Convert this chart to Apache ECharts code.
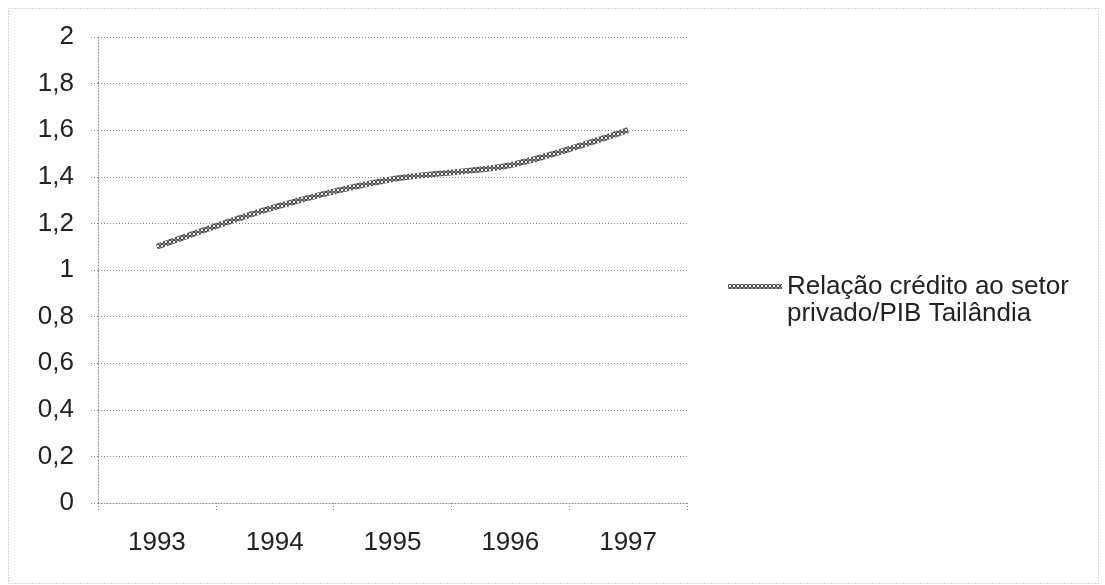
<!DOCTYPE html>
<html>
<head>
<meta charset="utf-8">
<script src="https://cdn.jsdelivr.net/npm/echarts@6/dist/echarts.min.js"></script>
<style>
  html, body { margin: 0; padding: 0; background: #fff; }
  #chart { width: 1105px; height: 585px; }
</style>
</head>
<body>
<div id="chart"></div>
<script>
// Credit to the private sector as a share of GDP, Thailand
const years = ['1993', '1994', '1995', '1996', '1997'];
const creditRatio = [1.10, 1.27, 1.39, 1.45, 1.60];
const seriesName = 'Relação crédito ao setor privado/PIB Tailândia';
const yTicks = { min: 0, max: 2, step: 0.2 };

// Small ring-shaped stipple used to stroke the line and its legend key
function makeStipple() {
  const c = document.createElement('canvas');
  c.width = 4; c.height = 4;
  const g = c.getContext('2d');
  g.fillStyle = '#8c8c8c';
  g.fillRect(0, 0, 4, 4);
  g.fillStyle = '#4a4a4a';
  g.fillRect(0, 1, 1, 2);
  g.fillRect(3, 1, 1, 2);
  g.fillRect(1, 0, 2, 1);
  g.fillRect(1, 3, 2, 1);
  g.fillStyle = '#f4f4f4';
  g.fillRect(1, 1, 2, 2);
  return c;
}
const stipple = { image: makeStipple(), repeat: 'repeat' };

const dotted = [1, 2];
const gridColor = '#8a8a8a';
const font = 'Liberation Sans, Arial, sans-serif';

const chart = echarts.init(document.getElementById('chart'), null, { renderer: 'canvas' });
chart.setOption({
  animation: false,
  backgroundColor: '#fff',
  grid: { left: 98, right: 418, top: 37, bottom: 82, containLabel: false },
  graphic: [{
    type: 'rect',
    shape: { x: 8.5, y: 8.5, width: 1090, height: 575 },
    style: { fill: 'none', stroke: '#a8a8a8', lineWidth: 1, lineDash: dotted },
    silent: true
  }],
  legend: {
    left: 723,
    top: 241,
    orient: 'vertical',
    icon: 'rect',
    itemWidth: 54,
    itemHeight: 5,
    itemStyle: { color: stipple },
    // leading empty line keeps the first text line level with the key
    formatter: function (name) {
      return '\n' + name.replace(' privado', '\nprivado');
    },
    textStyle: {
      fontFamily: font,
      fontSize: 26,
      color: '#222',
      lineHeight: 27
    },
    data: [seriesName]
  },
  xAxis: {
    type: 'category',
    data: years,
    boundaryGap: true,
    axisLine: { show: true, lineStyle: { color: gridColor, type: dotted, width: 1 } },
    axisTick: { show: true, length: 7, interval: 0, lineStyle: { color: gridColor, type: dotted } },
    axisLabel: { fontFamily: font, fontSize: 26, color: '#222', margin: 27 },
    splitLine: { show: false }
  },
  yAxis: {
    type: 'value',
    min: yTicks.min,
    max: yTicks.max,
    interval: yTicks.step,
    axisLine: { show: true, lineStyle: { color: gridColor, type: dotted, width: 1 } },
    axisTick: { show: true, length: 8, lineStyle: { color: gridColor, type: dotted } },
    axisLabel: {
      fontFamily: font, fontSize: 26, color: '#222', margin: 24,
      formatter: function (v) { return String(Math.round(v * 10) / 10).replace('.', ','); }
    },
    splitLine: { show: true, lineStyle: { color: gridColor, type: dotted, width: 1 } }
  },
  series: [{
    name: seriesName,
    type: 'line',
    data: creditRatio,
    smooth: 0.3,
    symbol: 'none',
    lineStyle: { width: 6, color: stipple },
    itemStyle: { color: stipple }
  }]
});
</script>
</body>
</html>
